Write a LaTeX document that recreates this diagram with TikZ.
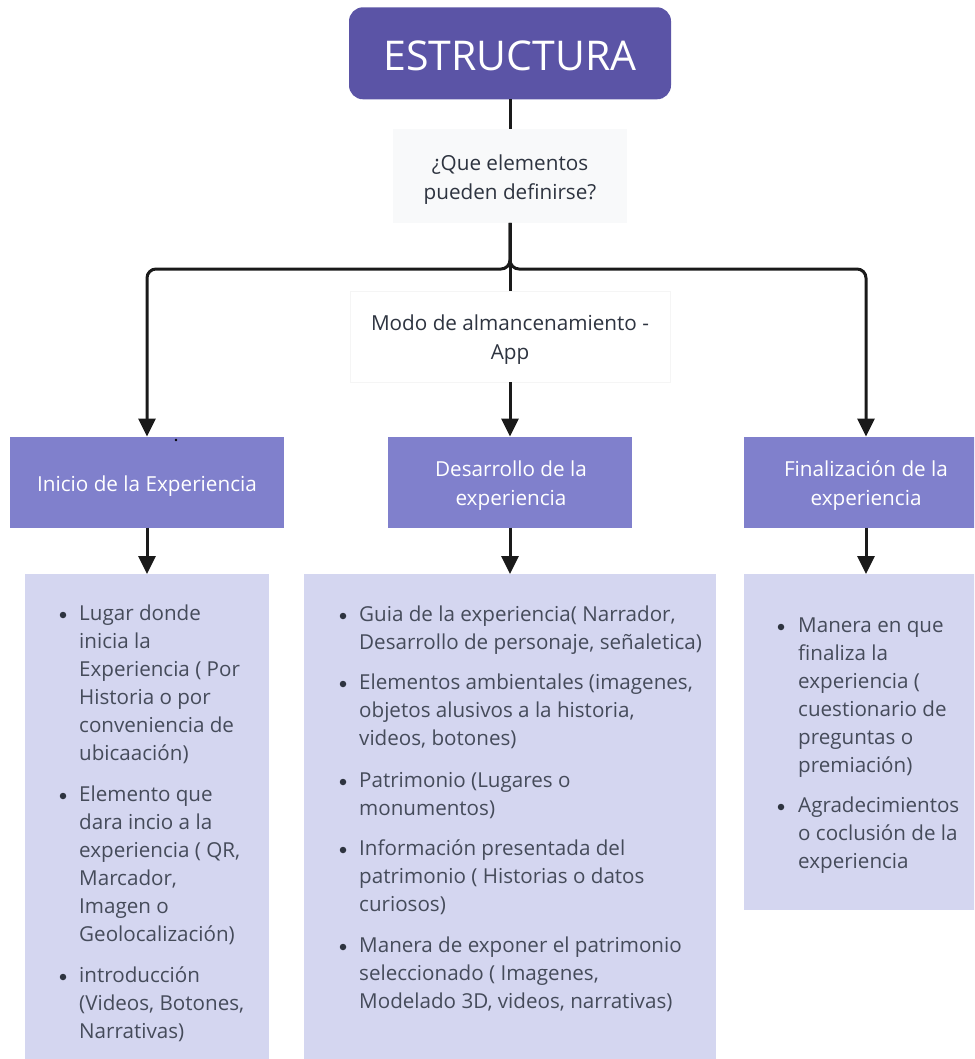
\documentclass[tikz,border=0pt]{standalone}
\usepackage{fontspec}
\setmainfont{Open Sans}
\usetikzlibrary{arrows.meta}
\definecolor{titlefill}{HTML}{5B54A6}
\definecolor{headfill}{HTML}{8080CC}
\definecolor{listfill}{HTML}{D4D6F0}
\definecolor{askfill}{HTML}{F8F9FA}
\definecolor{inktext}{HTML}{2E3440}
\definecolor{listtext}{HTML}{454B5A}
\definecolor{wirecol}{HTML}{1A1A1A}
\begin{document}
\begin{tikzpicture}[x=1pt,y=-1pt,
  box/.style={inner sep=0pt, outer sep=0pt, draw=none},
  titlebox/.style={box, fill=titlefill, rounded corners=14pt, text=white,
    font=\fontsize{41}{48}\selectfont, text height=35pt, text depth=0pt},
  askbox/.style={box, fill=askfill},
  asktext/.style={inner sep=0pt, text=inktext, font=\fontsize{20.7}{29}\selectfont, align=center},
  headbox/.style={box, fill=headfill},
  headtext/.style={inner sep=0pt, text=white, font=\fontsize{20.7}{29}\selectfont, align=center},
  listbox/.style={box, fill=listfill},
  item/.style={anchor=base west, inner sep=0pt, text=listtext,
    font=\fontsize{20.6}{28}\selectfont, align=left},
  bullet/.style={circle, fill=inktext, inner sep=0pt, minimum size=6.5pt},
  wire/.style={draw=wirecol, line width=3pt},
  arrow/.style={wire, -{Triangle[length=18pt,width=17pt]}}
]
\useasboundingbox (0,0) rectangle (974,1059);
\clip (0,0) rectangle (974,1059);

% title and the two question boxes
\node[titlebox, minimum width=322pt, minimum height=92pt] (title) at (510,53.3) {ESTRUCTURA};
\node[askbox, minimum width=234pt, minimum height=94pt] (ask) at (510,176) {};
\node[asktext] (askt) at (510,180) {¿Que elementos\\pueden definirse?};
\node[askbox, fill=white, draw=black!4, minimum width=320pt, minimum height=91pt] (store) at (510,336.5) {};
\node[asktext] (storet) at (510,340) {Modo de almancenamiento -\\App};
\coordinate (fork) at (510,269);

% stage headers
\node[headbox, minimum width=274pt, minimum height=91pt] (h1) at (147,482) {};
\node[headtext] (h1t) at (147,486) {Inicio de la Experiencia};
\node[headbox, minimum width=244pt, minimum height=91pt] (h2) at (510,482) {};
\node[headtext] (h2t) at (511,486) {Desarrollo de la\\experiencia};
\node[headbox, minimum width=244pt, minimum height=91pt] (h3) at (866,482) {};
\node[headtext] (h3t) at (866,486) {Finalización de la\\experiencia};
\fill[black] (176,440) circle (1.3pt);

% content panels
\node[listbox, minimum width=244pt, minimum height=500pt, anchor=north] (c1) at (147,574) {};
\node[listbox, minimum width=412pt, minimum height=500pt, anchor=north] (c2) at (510,574) {};
\node[listbox, minimum width=244pt, minimum height=336pt, anchor=north] (c3) at (866,574) {};

% connectors
\draw[wire] (title.south) -- (ask.north);
\draw[arrow, rounded corners=9pt] (ask.south) -- (fork) -| (h1.north);
\draw[arrow, rounded corners=9pt] (ask.south) -- (fork) -| (h3.north);
\draw[wire] (ask.south) -- (store.north);
\draw[arrow] (store.south) -- (h2.north);
\draw[arrow] (h1.south) -- (c1.north);
\draw[arrow] (h2.south) -- (c2.north);
\draw[arrow] (h3.south) -- (c3.north);

% first panel (each item is placed by the baseline of its last line)
\node[bullet] (b11) at (63,615) {};
\node[item] (t11) at (79,760) {Lugar donde\\inicia la\\Experiencia ( Por\\Historia o por\\conveniencia de\\ubicaación)};
\node[bullet] (b12) at (63,796) {};
\node[item] (t12) at (79,941) {Elemento que\\dara incio a la\\experiencia ( QR,\\Marcador,\\Imagen o\\Geolocalización)};
\node[bullet] (b13) at (63,977) {};
\node[item] (t13) at (79,1038) {introducción\\(Videos, Botones,\\Narrativas)};

% second panel
\node[bullet] (b21) at (343,616) {};
\node[item] (t21) at (359,649) {Guia de la experiencia( Narrador,\\Desarrollo de personaje, señaletica)};
\node[bullet] (b22) at (343,684) {};
\node[item] (t22) at (359,745) {Elementos ambientales (imagenes,\\objetos alusivos a la historia,\\videos, botones)};
\node[bullet] (b23) at (343,782) {};
\node[item] (t23) at (359,815) {Patrimonio (Lugares o\\monumentos)};
\node[bullet] (b24) at (343,850) {};
\node[item] (t24) at (359,911) {Información presentada del\\patrimonio ( Historias o datos\\curiosos)};
\node[bullet] (b25) at (343,947) {};
\node[item] (t25) at (359,1008) {Manera de exponer el patrimonio\\seleccionado ( Imagenes,\\Modelado 3D, videos, narrativas)};

% third panel
\node[bullet] (b31) at (781,627) {};
\node[item] (t31) at (798,772) {Manera en que\\finaliza la\\experiencia (\\cuestionario de\\preguntas o\\premiación)};
\node[bullet] (b32) at (781,807) {};
\node[item] (t32) at (798,868) {Agradecimientos\\o coclusión de la\\experiencia};
\end{tikzpicture}
\end{document}
